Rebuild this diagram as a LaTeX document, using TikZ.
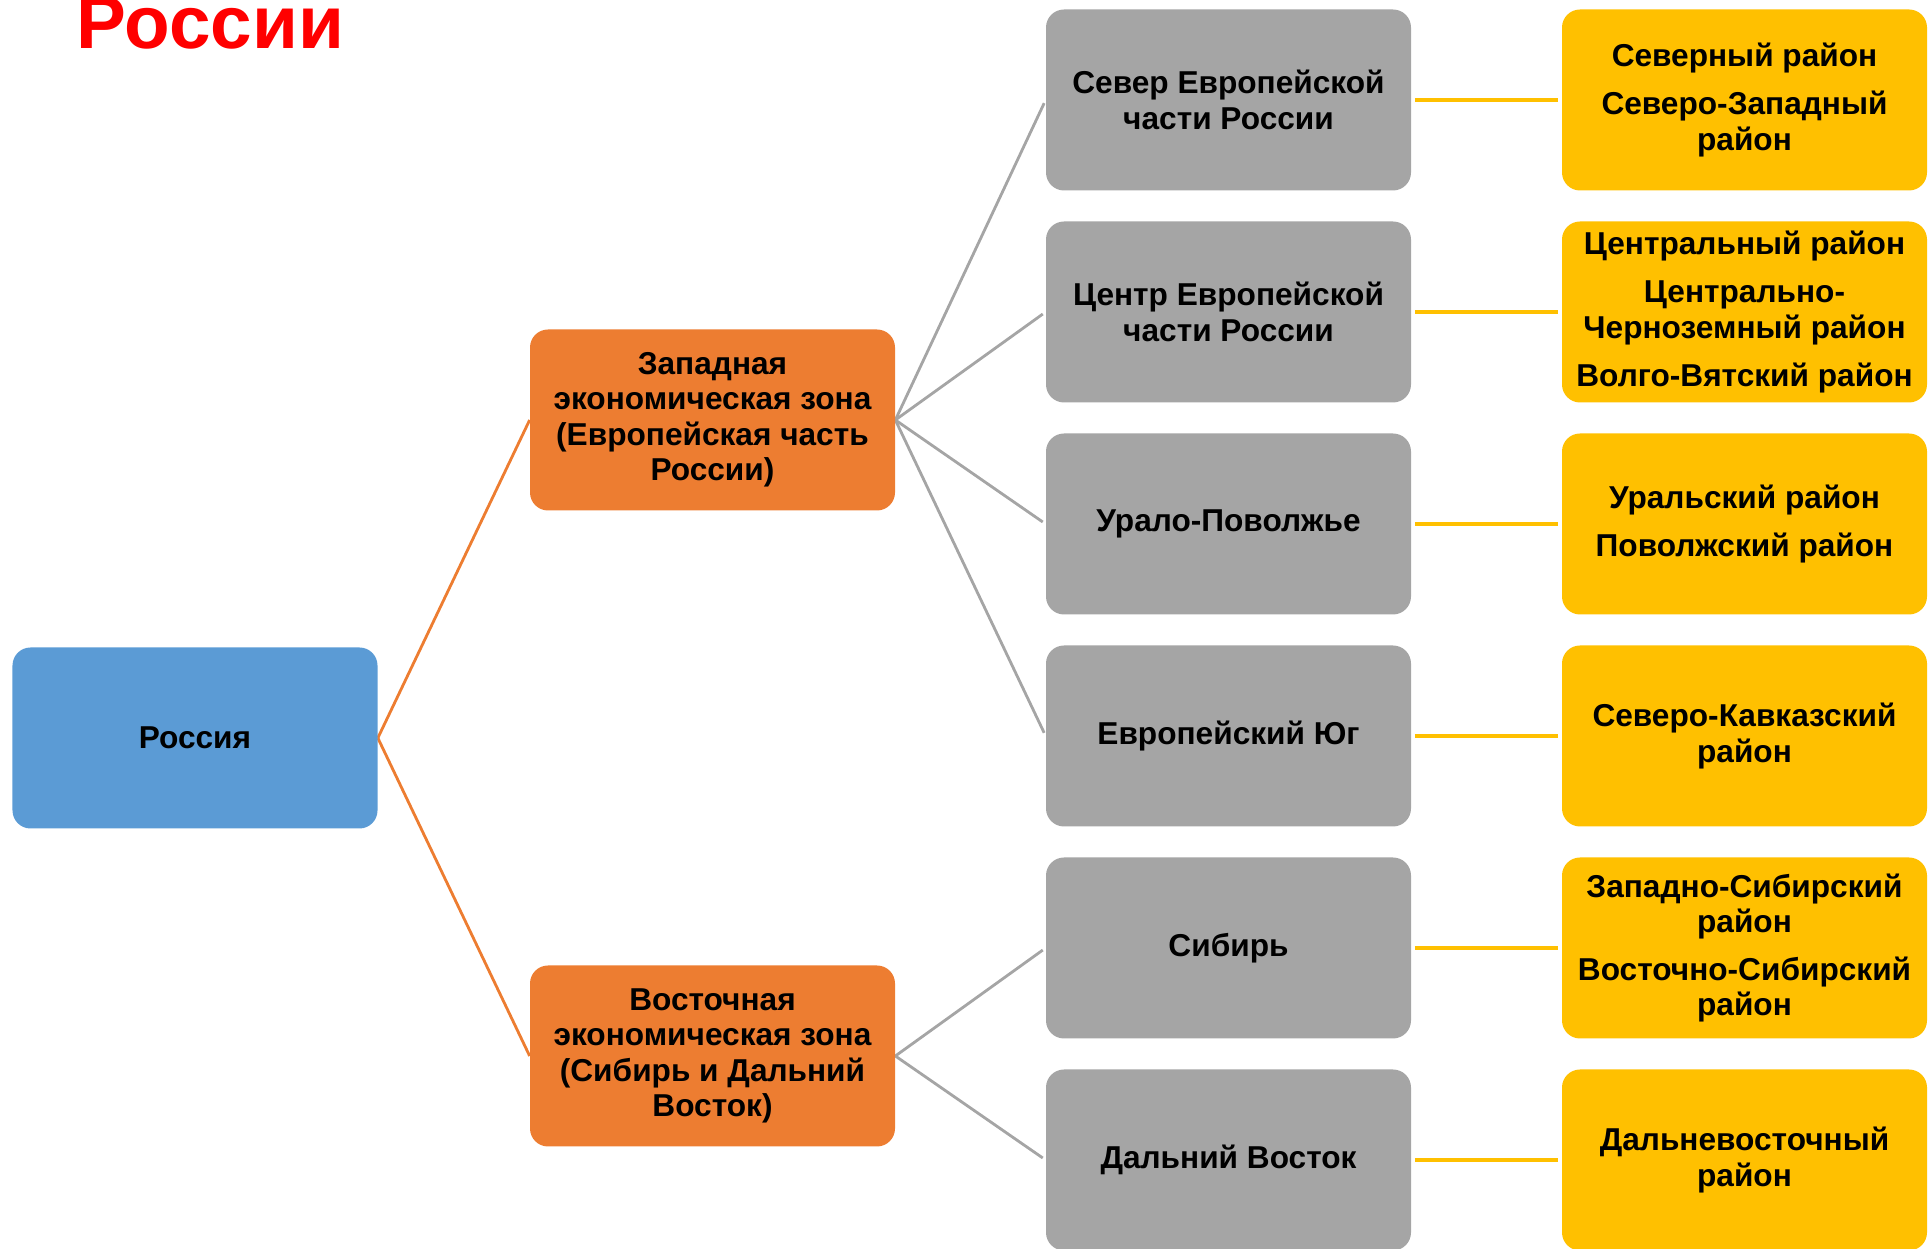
\documentclass[tikz,border=0pt]{standalone}
\usepackage{fontspec}
\setmainfont{Liberation Sans}
\usepackage{xcolor}
\usepackage{tikz}
\definecolor{zblue}{HTML}{5B9BD5}
\definecolor{zorange}{HTML}{ED7D31}
\definecolor{zgrey}{HTML}{A5A5A5}
\definecolor{zyellow}{HTML}{FFC000}
\tikzstyle{box}=[shape=rectangle, rounded corners=0.36cm, minimum width=7.3cm, minimum height=3.62cm, inner sep=0pt, align=center, text=black, font=\fontsize{18}{20.2}\selectfont\bfseries]
\tikzstyle{root}=[box, fill=zblue]
\tikzstyle{zone}=[box, fill=zorange]
\tikzstyle{region}=[box, fill=zgrey]
\tikzstyle{district}=[box, fill=zyellow]
\tikzstyle{orange edge}=[-, draw=zorange, line width=1.6pt]
\tikzstyle{grey edge}=[-, draw=zgrey, line width=1.6pt, shorten >=2pt]
\tikzstyle{yellow edge}=[-, draw=zyellow, line width=2pt, shorten >=2pt, shorten <=2pt]
\pgfdeclarelayer{nodelayer}
\pgfdeclarelayer{edgelayer}
\pgfsetlayers{edgelayer,nodelayer,main}

\begin{document}
\begin{tikzpicture}
	\useasboundingbox (0,0) rectangle (38.62,24.98);
	\begin{pgfonlayer}{nodelayer}
		\node [anchor=base west, inner sep=0pt, text=red, font=\fontsize{42.5}{46}\selectfont\bfseries] (title) at (1.53,24.0) {России};
		\node [style=root] (0) at (3.9, 10.22) {Россия};
		\node [style=zone] (1) at (14.25, 16.58) {Западная\\экономическая зона\\(Европейская часть\\России)};
		\node [style=zone] (2) at (14.25, 3.86) {Восточная\\экономическая зона\\(Сибирь и Дальний\\Восток)};
		\node [style=region] (3) at (24.57, 22.98) {Север Европейской\\части России};
		\node [style=region] (4) at (24.57, 18.74) {Центр Европейской\\части России};
		\node [style=region] (5) at (24.57, 14.5) {Урало-Поволжье};
		\node [style=region] (6) at (24.57, 10.26) {Европейский Юг};
		\node [style=region] (7) at (24.57, 6.02) {Сибирь};
		\node [style=region] (8) at (24.57, 1.78) {Дальний Восток};
		\node [style=district] (9) at (34.89, 22.98) {Северный район\\[7pt]Северо-Западный\\район};
		\node [style=district] (10) at (34.89, 18.74) {Центральный район\\[7pt]Центрально-\\Черноземный район\\[7pt]Волго-Вятский район};
		\node [style=district] (11) at (34.89, 14.5) {Уральский район\\[7pt]Поволжский район};
		\node [style=district] (12) at (34.89, 10.26) {Северо-Кавказский\\район};
		\node [style=district] (13) at (34.89, 6.02) {Западно-Сибирский\\район\\[7pt]Восточно-Сибирский\\район};
		\node [style=district] (14) at (34.89, 1.78) {Дальневосточный\\район};
	\end{pgfonlayer}
	\begin{pgfonlayer}{edgelayer}
		\draw [style=orange edge] (0.east) to (1.west);
		\draw [style=orange edge] (0.east) to (2.west);
		\draw [style=grey edge] (1.east) to (3.west);
		\draw [style=grey edge] (1.east) to (4.west);
		\draw [style=grey edge] (1.east) to (5.west);
		\draw [style=grey edge] (1.east) to (6.west);
		\draw [style=grey edge] (2.east) to (7.west);
		\draw [style=grey edge] (2.east) to (8.west);
		\draw [style=yellow edge] (3.east) to (9.west);
		\draw [style=yellow edge] (4.east) to (10.west);
		\draw [style=yellow edge] (5.east) to (11.west);
		\draw [style=yellow edge] (6.east) to (12.west);
		\draw [style=yellow edge] (7.east) to (13.west);
		\draw [style=yellow edge] (8.east) to (14.west);
	\end{pgfonlayer}
\end{tikzpicture}
\end{document}
